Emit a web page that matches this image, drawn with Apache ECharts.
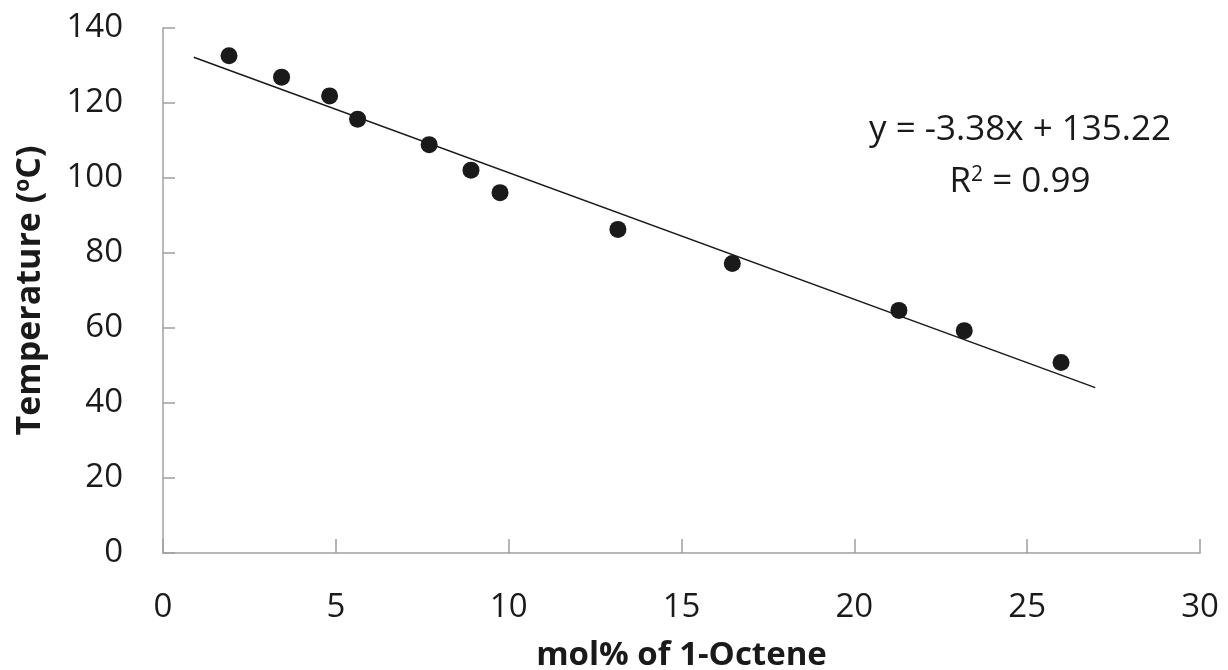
<!DOCTYPE html>
<html>
<head>
<meta charset="utf-8">
<script src="https://cdn.jsdelivr.net/npm/echarts@6/dist/echarts.min.js"></script>
<style>
html,body{margin:0;padding:0;background:#fff;}
#chart{width:1228px;height:670px;}
</style>
</head>
<body>
<div id="chart"></div>
<script>
// Data
const octeneMolPct = [1.91, 3.43, 4.82, 5.63, 7.70, 8.91, 9.75, 13.16, 16.47, 21.29, 23.18, 25.98];
const temperatureC = [132.6, 126.9, 121.9, 115.7, 108.9, 102.1, 96.1, 86.3, 77.2, 64.7, 59.3, 50.8];
// Linear trendline end points (as drawn)
const trendX = [0.89, 26.97];
const trendY = [132.2, 44.1];
const xTicks = [0, 5, 10, 15, 20, 25, 30];
const yTicks = [0, 20, 40, 60, 80, 100, 120, 140];
const equationText = 'y = -3.38x + 135.22';
const r2Value = '0.99';

const chart = echarts.init(document.getElementById('chart'));
const font = '"Open Sans", "Liberation Sans", sans-serif';
const axisGray = '#a0a0a0';
const ink = '#1a1a1a';

chart.setOption({
  backgroundColor: '#ffffff',
  animation: false,
  grid: { left: 163, right: 28, top: 28, bottom: 117, containLabel: false, outerBoundsMode: 'none' },
  xAxis: {
    type: 'value', min: xTicks[0], max: xTicks[xTicks.length - 1], interval: 5,
    name: 'mol% of 1-Octene', nameLocation: 'middle', nameGap: 86,
    nameTextStyle: { fontFamily: font, fontSize: 33, fontWeight: 'bold', color: ink },
    axisLine: { lineStyle: { color: axisGray, width: 1.5 } },
    axisTick: { inside: true, length: 14, lineStyle: { color: axisGray, width: 1.5 } },
    axisLabel: { fontFamily: font, fontSize: 33, color: ink, margin: 38 },
    splitLine: { show: false }
  },
  yAxis: {
    type: 'value', min: yTicks[0], max: yTicks[yTicks.length - 1], interval: 20,
    name: '{t|Temperature (}{s|o}{t|C)}', nameLocation: 'middle', nameGap: 116,
    nameTextStyle: {
      rich: {
        t: { fontFamily: font, fontSize: 34, fontWeight: 'bold', color: ink },
        s: { fontFamily: font, fontSize: 21, fontWeight: 'bold', color: ink, verticalAlign: 'top', padding: [0, 0, 12, 0] }
      }
    },
    axisLine: { show: true, lineStyle: { color: axisGray, width: 1.5 } },
    axisTick: { show: true, inside: true, length: 12, lineStyle: { color: axisGray, width: 1.5 } },
    axisLabel: { fontFamily: font, fontSize: 33, color: ink, margin: 40 },
    splitLine: { show: false }
  },
  series: [
    {
      type: 'line',
      data: trendX.map((x, i) => [x, trendY[i]]),
      symbol: 'none',
      lineStyle: { color: ink, width: 1.5 },
      silent: true,
      z: 1
    },
    {
      type: 'scatter',
      data: octeneMolPct.map((x, i) => [x, temperatureC[i]]),
      symbol: 'circle',
      symbolSize: 17,
      itemStyle: { color: ink, opacity: 1 },
      z: 2
    }
  ],
  graphic: [
    {
      type: 'text', x: 1020, y: 113,
      style: { text: equationText, font: '35px ' + font, fill: ink, align: 'center' }
    },
    {
      type: 'text', x: 1020, y: 165,
      style: {
        text: '{t|R}{s|2}{t| = ' + r2Value + '}',
        align: 'center',
        rich: {
          t: { font: '35px ' + font, fill: ink },
          s: { font: '21px ' + font, fill: ink, verticalAlign: 'top', padding: [0, 0, 14, 0] }
        }
      }
    }
  ]
});
</script>
</body>
</html>
